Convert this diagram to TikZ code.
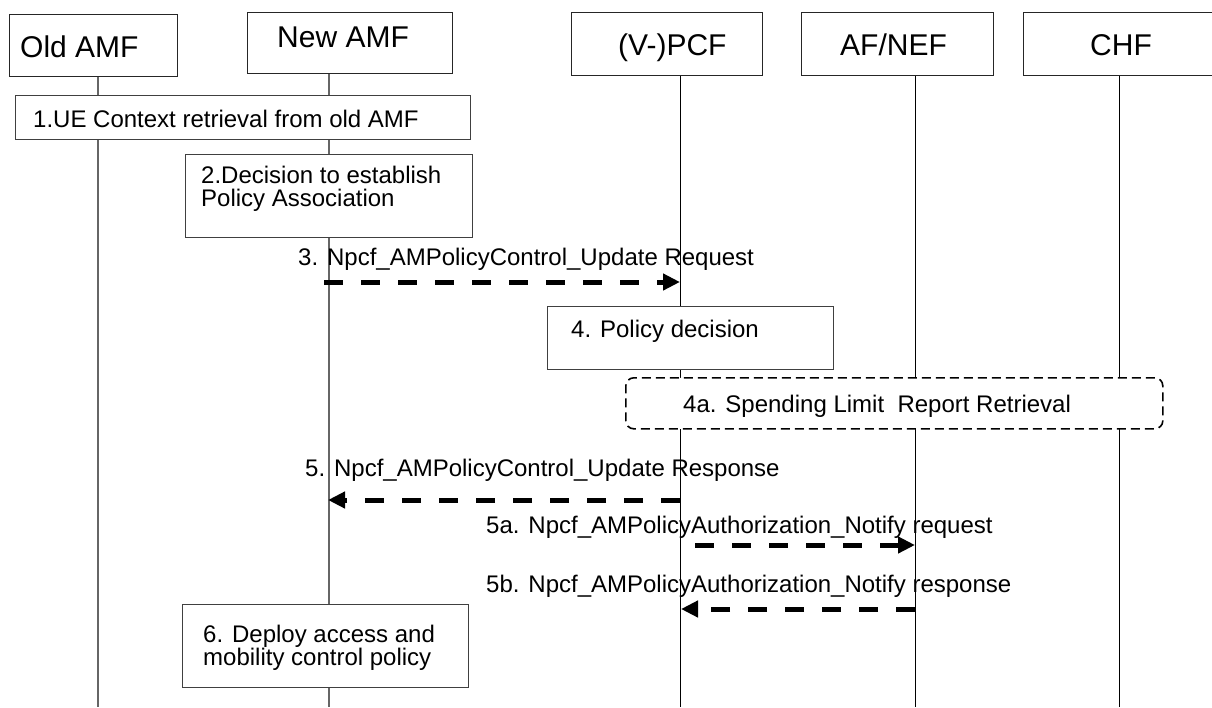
\documentclass[tikz,border=0pt]{standalone}
\usepackage{fontspec}
\setmainfont{Liberation Sans}
\usetikzlibrary{arrows.meta}
\begin{document}
\begin{tikzpicture}[x=1pt,y=-1pt,
  hbox/.style={draw=black!85, line width=1.2pt, fill=white, inner sep=0pt, anchor=north west},
  box/.style={draw=black!75, line width=1.1pt, fill=white, inner sep=0pt, anchor=north west},
  dbox/.style={draw=black, line width=1.6pt, dash pattern=on 9pt off 5pt, rounded corners=8pt, fill=white, inner sep=0pt, anchor=north west},
  txt/.style={anchor=base west, inner sep=0pt, font=\fontsize{24}{27}\selectfont},
  htxt/.style={anchor=base west, inner sep=0pt, font=\fontsize{30}{34}\selectfont},
  lifeg/.style={draw=black!60, line width=1.1pt},
  lifeb/.style={draw=black, line width=0.9pt},
  msg/.style={line width=5pt, dash pattern=on 19pt off 18pt, -{Triangle[length=17pt 0,width=16pt 0]}},
  ]
\useasboundingbox (0,0) rectangle (1212,707);

% header boxes
\node[hbox, minimum width=168pt, minimum height=62pt] (oldamf) at (9,14) {};
\node[hbox, minimum width=205pt, minimum height=61pt] (newamf) at (247,12) {};
\node[hbox, minimum width=191pt, minimum height=63pt] (pcf) at (571,12) {};
\node[hbox, minimum width=192pt, minimum height=63pt] (afnef) at (801,12) {};
\node[hbox, minimum width=200pt, minimum height=63pt] (chf) at (1023,12) {};
\node[htxt] (toldamf) at (20,57) {Old AMF};
\node[htxt] (tnewamf) at (277,47) {New AMF};
\node[htxt] (tpcf) at (618,55) {(V-)PCF};
\node[htxt] (tafnef) at (840,55) {AF/NEF};
\node[htxt] (tchf) at (1090,55) {CHF};

% lifelines
\coordinate (oldend) at (98,707);
\coordinate (newend) at (329,707);
\coordinate (pcfend) at (680,707);
\coordinate (afend) at (915,707);
\coordinate (chfend) at (1119,707);
\draw[lifeg] (oldamf.south -| oldend) -- (oldend);
\draw[lifeg] (newamf.south -| newend) -- (newend);
\draw[lifeb] (pcf.south -| pcfend) -- (pcfend);
\draw[lifeb] (afnef.south -| afend) -- (afend);
\draw[lifeb] (chf.south -| chfend) -- (chfend);

% step boxes
\node[box, minimum width=455pt, minimum height=44pt] (s1) at (15,95) {};
\node[txt] (ts1) at (33,127) {1.UE Context retrieval from old AMF};

\node[box, minimum width=287pt, minimum height=83pt] (s2) at (185,154) {};
\node[txt] (ts2a) at (201,183) {2.Decision to establish};
\node[txt] (ts2b) at (201,206) {Policy Association};

\node[box, minimum width=286pt, minimum height=63pt] (s4) at (547,306) {};
\node[txt] (ts4) at (571,337) {4. Policy decision};

\node[dbox, minimum width=537pt, minimum height=51pt] (s4a) at (625,377) {};
\node[txt] (ts4a) at (683,412) {4a. Spending Limit\ \ Report Retrieval};

\node[box, minimum width=286pt, minimum height=83pt] (s6) at (182,604) {};
\node[txt] (ts6a) at (203,642) {6. Deploy access and};
\node[txt] (ts6b) at (203,665) {mobility control policy};

% messages
\coordinate (m3s) at (324,282); \coordinate (m3e) at (680,282);
\draw[msg] (m3s) -- (m3e);
\node[txt] (tm3) at (298,265) {3. Npcf\_AMPolicyControl\_Update Request};

\coordinate (m5s) at (680,500); \coordinate (m5e) at (328,500);
\draw[msg] (m5s) -- (m5e);
\node[txt] (tm5) at (305,476) {5. Npcf\_AMPolicyControl\_Update Response};

\coordinate (m5as) at (695,545); \coordinate (m5ae) at (915,545);
\draw[msg] (m5as) -- (m5ae);
\node[txt] (tm5a) at (486,533) {5a. Npcf\_AMPolicyAuthorization\_Notify request};

\coordinate (m5bs) at (915,609); \coordinate (m5be) at (681,609);
\draw[msg] (m5bs) -- (m5be);
\node[txt] (tm5b) at (486,592) {5b. Npcf\_AMPolicyAuthorization\_Notify response};
\end{tikzpicture}
\end{document}
